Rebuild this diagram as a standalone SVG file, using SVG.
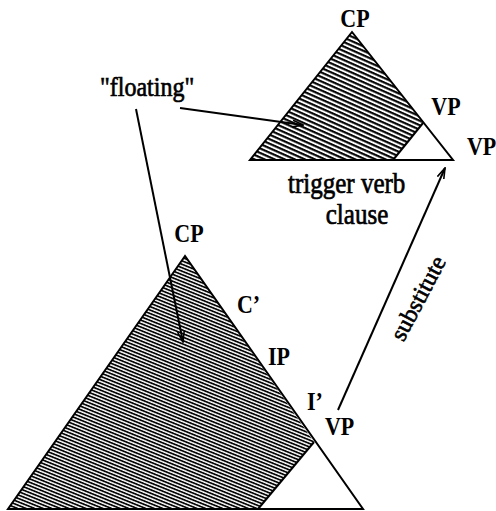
<svg xmlns="http://www.w3.org/2000/svg" width="496" height="511" viewBox="0 0 496 511">
<style>
.edge{fill:none;stroke:#000;stroke-width:2;stroke-linejoin:miter}
.lbl{font-family:"Liberation Serif",serif;font-weight:bold;font-size:22px;fill:#000}
.txt{font-family:"Liberation Serif",serif;font-size:25px;fill:#000;stroke:#000;stroke-width:0.6}
.conn{fill:none;stroke:#000;stroke-width:2}
</style>
<defs>
<pattern id="hatchS" patternUnits="userSpaceOnUse" width="10" height="3.2" patternTransform="rotate(22)">
<rect width="10" height="3.2" fill="#fff"/>
<line x1="0" y1="0.9" x2="10" y2="0.9" stroke="#000" stroke-width="1.7"/>
</pattern>
<pattern id="hatchU" patternUnits="userSpaceOnUse" width="10" height="4.1" patternTransform="rotate(24)">
<rect width="10" height="4.1" fill="#fff"/>
<line x1="0" y1="1.1" x2="10" y2="1.1" stroke="#000" stroke-width="2.1"/>
</pattern>
<marker id="arr" viewBox="0 0 12 8" refX="11" refY="4" markerWidth="12" markerHeight="8" markerUnits="userSpaceOnUse" orient="auto">
<path d="M0,0.5 L11,4 L0,7.5" fill="none" stroke="#000" stroke-width="1.6"/>
</marker>
</defs>

<g id="upper-tree">
<polygon points="352,32 250,160 393,160 423,123" fill="url(#hatchU)"/>
<polygon points="352,32 250,160 453,160" class="edge"/>
<line x1="423" y1="123" x2="393" y2="160" class="edge"/>
<text class="lbl" transform="translate(355,27) scale(1,1.15)" text-anchor="middle">CP</text>
<text class="lbl" transform="translate(446,115) scale(1,1.15)" text-anchor="middle">VP</text>
<text class="lbl" transform="translate(467,155) scale(1,1.15)">VP</text>
<text class="txt" transform="translate(288,193) scale(1,1.15)">trigger verb</text>
<text class="txt" transform="translate(357,224) scale(1,1.15)" text-anchor="middle">clause</text>
</g>

<g id="lower-tree">
<polygon points="185,256 8,509 258,509 314,442" fill="url(#hatchS)"/>
<polygon points="185,256 8,509 363,509" class="edge"/>
<line x1="314" y1="442" x2="258" y2="509" class="edge"/>
<text class="lbl" transform="translate(189,242) scale(1,1.15)" text-anchor="middle">CP</text>
<text class="lbl" transform="translate(237,313) scale(1,1.15)">C’</text>
<text class="lbl" transform="translate(268,365) scale(1,1.15)">IP</text>
<text class="lbl" transform="translate(307,410) scale(1,1.15)">I’</text>
<text class="lbl" transform="translate(325,435) scale(1,1.15)">VP</text>
</g>

<g id="floating-label">
<text class="txt" transform="translate(100,96) scale(1,1.15)" style="font-size:24px">"floating"</text>
</g>

<g id="connectors">
<line x1="180" y1="108" x2="303" y2="125" class="conn" marker-end="url(#arr)"/>
<line x1="136" y1="109" x2="183" y2="342" class="conn" marker-end="url(#arr)"/>
<line x1="338" y1="410" x2="445" y2="168" class="conn" marker-end="url(#arr)"/>
<text class="txt" transform="translate(425,302) rotate(-62)" text-anchor="middle" style="font-size:24px">substitute</text>
</g>
</svg>
